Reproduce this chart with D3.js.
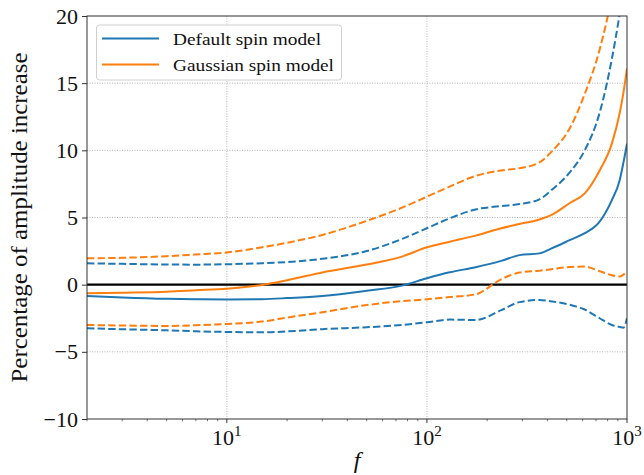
<!DOCTYPE html>
<html>
<head>
<meta charset="utf-8">
<script src="https://cdn.jsdelivr.net/npm/d3@7"></script>
<style>
  html, body { margin: 0; padding: 0; background: #fff; }
  svg { display: block; }
  svg text { font-family: "Liberation Serif", "DejaVu Serif", serif !important; fill: #111; }
</style>
</head>
<body>
<svg id="chart" width="644" height="475" font-family="Liberation Serif"></svg>
<script>
// Frequencies at which the amplitude increase was sampled
const freqs = [2, 3, 5, 7, 10, 15, 20, 30, 50, 75, 100, 130, 175, 235, 290, 365, 420, 520, 615, 730, 840, 920, 960, 1000];

// Default spin model: median and band edges (percent)
const defaultMid   = [-0.84, -0.95, -1.05, -1.08, -1.1, -1.08, -1.0, -0.84, -0.45, -0.07, 0.48, 0.92, 1.3, 1.77, 2.2, 2.33, 2.7, 3.33, 3.83, 4.7, 6.3, 7.8, 9.1, 10.5];
const defaultUpper = [1.59, 1.55, 1.5, 1.49, 1.52, 1.6, 1.68, 1.93, 2.5, 3.4, 4.2, 4.94, 5.6, 5.85, 6.0, 6.35, 7.05, 8.4, 10.0, 12.8, 16.8, 20.2, 22, 24];
const defaultLower = [-3.25, -3.32, -3.4, -3.47, -3.52, -3.55, -3.48, -3.31, -3.17, -3.0, -2.8, -2.6, -2.63, -1.9, -1.3, -1.14, -1.25, -1.5, -1.85, -2.5, -3.0, -3.15, -3.2, -2.5];

// Gaussian spin model: median and band edges (percent)
const gaussMid   = [-0.64, -0.6, -0.53, -0.42, -0.3, -0.02, 0.33, 0.91, 1.5, 2.09, 2.78, 3.2, 3.65, 4.2, 4.52, 4.85, 5.2, 6.1, 6.8, 8.5, 10.5, 12.8, 14.3, 16.1];
const gaussUpper = [1.96, 2.0, 2.12, 2.25, 2.4, 2.78, 3.12, 3.7, 4.75, 5.73, 6.55, 7.3, 8.1, 8.5, 8.67, 9.1, 9.9, 11.7, 14.2, 17.5, 21.5, 25, 27, 30];
const gaussLower = [-3.0, -3.04, -3.07, -3.02, -2.92, -2.75, -2.45, -2.05, -1.52, -1.22, -1.09, -0.92, -0.72, 0.4, 0.9, 1.04, 1.15, 1.32, 1.35, 1.0, 0.7, 0.6, 0.75, 0.97];

const seriesNames = ["Default spin model", "Gaussian spin model"];
const yTicks = [-10, -5, 0, 5, 10, 15, 20];
const xMajorTicks = [10, 100, 1000];
const xTickExponents = ["1", "2", "3"];

const colors = { def: "#1f77b4", gauss: "#ff7f0e" };
const serif = '"Liberation Serif", "DejaVu Serif", serif';

const svg = d3.select("#chart");
const margin = { left: 87, right: 17, top: 16, bottom: 56 };
const W = 644, H = 475;
const x = d3.scaleLog().domain([2, 1000]).range([margin.left, W - margin.right]);
const y = d3.scaleLinear().domain([-10, 20]).range([H - margin.bottom, margin.top]);

const x0 = x.range()[0], x1 = x.range()[1];
const yTop = y.range()[1], yBot = y.range()[0];

svg.append("defs").append("clipPath").attr("id", "plotClip")
  .append("rect").attr("x", x0).attr("y", yTop).attr("width", x1 - x0).attr("height", yBot - yTop);

// Grid
const grid = svg.append("g");
grid.selectAll("line.gy").data(yTicks.filter(v => v > -10 && v < 20 && v !== 0)).join("line")
  .attr("x1", x0).attr("x2", x1).attr("y1", d => y(d)).attr("y2", d => y(d))
  .attr("stroke", "#a0a0a0").attr("stroke-width", 0.8).attr("stroke-dasharray", "1,1.5");
grid.selectAll("line.gx").data(xMajorTicks.filter(v => v < 1000)).join("line")
  .attr("x1", d => x(d)).attr("x2", d => x(d)).attr("y1", yTop).attr("y2", yBot)
  .attr("stroke", "#a0a0a0").attr("stroke-width", 0.8).attr("stroke-dasharray", "1,1.5");

// Zero reference line
svg.append("line").attr("x1", x0).attr("x2", x1).attr("y1", y(0)).attr("y2", y(0))
  .attr("stroke", "#000").attr("stroke-width", 2.2);

// Curves
const line = d3.line().x((d, i) => x(freqs[i])).y(d => y(d)).curve(d3.curveMonotoneX);
const curves = [
  { v: defaultUpper, c: colors.def, dash: true },
  { v: defaultLower, c: colors.def, dash: true },
  { v: gaussUpper, c: colors.gauss, dash: true },
  { v: gaussLower, c: colors.gauss, dash: true },
  { v: defaultMid, c: colors.def, dash: false },
  { v: gaussMid, c: colors.gauss, dash: false }
];
const plot = svg.append("g").attr("clip-path", "url(#plotClip)");
plot.selectAll("path").data(curves).join("path")
  .attr("d", d => line(d.v))
  .attr("fill", "none")
  .attr("stroke", d => d.c)
  .attr("stroke-width", 2)
  .attr("stroke-dasharray", d => d.dash ? "7.4,3.2" : null);

// Spines
svg.append("rect").attr("x", x0).attr("y", yTop).attr("width", x1 - x0).attr("height", yBot - yTop)
  .attr("fill", "none").attr("stroke", "#333").attr("stroke-width", 1);

// Y axis
const yAxis = d3.axisLeft(y).tickValues(yTicks).tickSize(5).tickPadding(4)
  .tickFormat(d3.format("d"));
const gy = svg.append("g").attr("transform", `translate(${x0},0)`).call(yAxis)
  .attr("font-family", serif).attr("font-size", 22);
gy.select(".domain").remove();
gy.selectAll(".tick line").attr("stroke", "#333");
gy.selectAll(".tick text").style("font-family", serif).style("font-size", "22px").attr("fill", "#111");

// X axis: minor and major ticks
const minorTicks = [];
[1, 10, 100].forEach(dec => { for (let k = 2; k <= 9; k++) { const v = k * dec; if (v >= 2 && v <= 1000) minorTicks.push(v); } });
svg.append("g").selectAll("line").data(minorTicks).join("line")
  .attr("x1", d => x(d)).attr("x2", d => x(d)).attr("y1", yBot).attr("y2", yBot + 2.2)
  .attr("stroke", "#333").attr("stroke-width", 0.7);
const gx = svg.append("g");
gx.selectAll("line").data(xMajorTicks).join("line")
  .attr("x1", d => x(d)).attr("x2", d => x(d)).attr("y1", yBot).attr("y2", yBot + 4)
  .attr("stroke", "#333").attr("stroke-width", 1);
const xl = gx.selectAll("text").data(xMajorTicks).join("text")
  .attr("x", d => x(d)).attr("y", yBot + 26).attr("text-anchor", "middle")
  .style("font-family", serif).style("font-size", "22px");
xl.append("tspan").text("10");
xl.append("tspan").attr("dy", -9).style("font-size", "15px").text((d, i) => xTickExponents[i]);

// Axis titles
svg.append("text").attr("x", (x0 + x1) / 2).attr("y", 468).attr("text-anchor", "middle")
  .style("font-family", serif).style("font-size", "24px").style("font-style", "italic").text("f");
svg.append("text").attr("transform", `translate(27,${(yTop + yBot) / 2}) rotate(-90)`)
  .attr("text-anchor", "middle").style("font-family", serif).style("font-size", "22.5px")
  .attr("textLength", 330).attr("lengthAdjust", "spacingAndGlyphs")
  .text("Percentage of amplitude increase");

// Legend
const lg = svg.append("g");
lg.append("rect").attr("x", 96.5).attr("y", 25).attr("width", 245).attr("height", 55).attr("rx", 3)
  .attr("fill", "#fff").attr("fill-opacity", 0.8).attr("stroke", "#d0d0d0").attr("stroke-width", 1);
const legendItems = [
  { name: seriesNames[0], c: colors.def, w: 148 },
  { name: seriesNames[1], c: colors.gauss, w: 161 }
];
const li = lg.selectAll("g").data(legendItems).join("g")
  .attr("transform", (d, i) => `translate(0,${38.5 + i * 26})`);
li.append("line").attr("x1", 102).attr("x2", 159).attr("y1", 0).attr("y2", 0)
  .attr("stroke", d => d.c).attr("stroke-width", 2);
li.append("text").attr("x", 173).attr("y", 6)
  .style("font-family", serif).style("font-size", "17.5px")
  .attr("textLength", d => d.w).attr("lengthAdjust", "spacingAndGlyphs")
  .text(d => d.name);
</script>
</body>
</html>
